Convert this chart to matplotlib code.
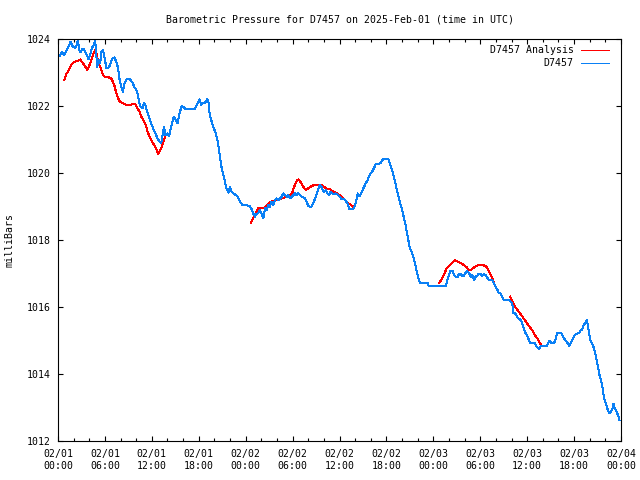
import matplotlib
matplotlib.use("Agg")
import matplotlib.pyplot as plt
from matplotlib.ticker import FixedLocator, MultipleLocator

# ---- data (hours since 2025-02-01 00:00 UTC, pressure in mbar) ----
obs_hours = [0.25, 0.5, 0.77, 1.06, 1.4, 1.6, 1.9, 2.2, 2.4, 2.56, 2.7, 2.85, 3.1, 3.3, 3.6, 3.9, 4.1, 4.35,
             4.6, 4.72, 4.85, 5.0, 5.2, 5.4, 5.55, 5.75, 5.97, 6.2, 6.4, 6.65, 6.95, 7.2, 7.45, 7.7, 7.8,
             8.1, 8.3, 8.5, 8.8, 9.2, 9.5, 9.8, 10.1, 10.3, 10.5, 10.8, 11.0, 11.2, 11.4, 11.7, 12.0,
             12.35, 12.7, 13.0, 13.2, 13.55, 13.75, 13.95, 14.2, 14.5, 14.8, 15.0, 15.3, 15.5, 15.8,
             16.0, 16.3, 17.5, 17.85, 18.1, 18.3, 18.6, 18.8, 19.1, 19.3, 19.4, 19.65, 19.85, 20.1,
             20.3, 20.5, 20.7, 20.9, 21.1, 21.35, 21.55, 21.8, 22.0, 22.2, 22.4, 22.6, 23.0, 23.3,
             23.6, 24.0, 24.55, 24.8, 24.95, 25.2, 25.4, 25.6, 25.8, 26.0, 26.25, 26.5, 26.7, 26.9,
             27.1, 27.3, 27.5, 27.75, 27.95, 28.2, 28.4, 28.6, 28.8, 29.05, 29.25, 29.45, 29.7, 29.9,
             30.1, 30.3, 30.5, 30.7, 31.0, 31.2, 31.4, 31.6, 31.8, 32.0, 32.2, 32.4, 32.6, 32.9, 33.1,
             33.3, 33.5, 33.65, 33.85, 34.0, 34.25, 34.45, 34.65, 34.85, 35.1, 35.3, 35.55, 35.8,
             36.05, 36.3, 36.6, 36.8, 37.0, 37.25, 37.75, 38.0, 38.2, 38.35, 38.55, 38.75, 39.05,
             39.35, 39.6, 39.9, 40.1, 40.4, 40.65, 41.25, 41.45, 41.6, 42.25, 42.45, 42.7, 42.9, 43.1,
             43.3, 43.5, 43.7, 43.95, 44.15, 44.4, 44.6, 44.8, 45.0, 45.2, 45.45, 45.65, 45.85, 46.05,
             46.3, 47.3, 47.4, 49.6, 49.8, 50.0, 50.2, 50.45, 50.65, 50.85, 51.1, 51.3, 51.5, 51.7,
             51.9, 52.1, 52.3, 52.55, 52.8, 53.0, 53.2, 53.4, 53.6, 53.8, 54.05, 54.25, 54.45, 54.65,
             54.85, 55.1, 55.5, 55.75, 55.95, 56.2, 56.4, 56.6, 56.8, 57.0, 57.65, 57.85, 58.1, 58.2,
             58.4, 58.6, 58.85, 59.1, 59.3, 59.5, 59.7, 59.95, 60.15, 60.35, 61.0, 61.2, 61.55, 61.75,
             62.5, 62.7, 62.9, 63.1, 63.35, 63.55, 63.8, 64.4, 64.6, 64.8, 65.05, 65.4, 65.55, 65.8,
             66.1, 66.4, 66.65, 66.8, 67.0, 67.25, 67.45, 67.6, 67.8, 67.95, 68.15, 68.4, 68.6, 68.8,
             69.05, 69.25, 69.45, 69.65, 69.8, 70.05, 70.25, 70.45, 70.7, 70.9, 71.05, 71.2, 71.45,
             71.65, 71.8]
obs_pressure = [1023.50, 1023.62, 1023.52, 1023.64, 1023.80, 1023.92, 1023.77, 1023.74, 1023.82, 1023.98,
                1023.67, 1023.60, 1023.70, 1023.70, 1023.57, 1023.40, 1023.52, 1023.74, 1023.82, 1023.96,
                1023.74, 1023.17, 1023.37, 1023.27, 1023.62, 1023.67, 1023.42, 1023.12, 1023.12, 1023.22,
                1023.42, 1023.45, 1023.32, 1023.12, 1022.87, 1022.58, 1022.43, 1022.68, 1022.81, 1022.80,
                1022.71, 1022.55, 1022.45, 1022.23, 1022.00, 1021.93, 1022.08, 1022.01, 1021.83, 1021.63,
                1021.43, 1021.23, 1021.05, 1020.93, 1020.89, 1021.38, 1021.13, 1021.18, 1021.10, 1021.40,
                1021.68, 1021.60, 1021.48, 1021.73, 1022.00, 1021.98, 1021.91, 1021.91, 1022.08, 1022.20,
                1022.03, 1022.10, 1022.10, 1022.20, 1022.06, 1021.73, 1021.53, 1021.38, 1021.23, 1021.08,
                1020.84, 1020.49, 1020.19, 1019.99, 1019.74, 1019.54, 1019.41, 1019.59, 1019.44, 1019.39,
                1019.37, 1019.29, 1019.14, 1019.04, 1019.04, 1019.01, 1018.90, 1018.80, 1018.70, 1018.78,
                1018.80, 1018.90, 1018.80, 1018.65, 1018.95, 1018.90, 1019.04, 1018.99, 1019.14, 1019.04,
                1019.19, 1019.24, 1019.19, 1019.24, 1019.29, 1019.39, 1019.34, 1019.29, 1019.34, 1019.24,
                1019.29, 1019.34, 1019.39, 1019.34, 1019.39, 1019.34, 1019.29, 1019.27, 1019.24, 1019.14,
                1019.02, 1018.99, 1018.99, 1019.09, 1019.24, 1019.39, 1019.54, 1019.64, 1019.61, 1019.49,
                1019.44, 1019.49, 1019.39, 1019.34, 1019.44, 1019.39, 1019.36, 1019.39, 1019.34, 1019.29,
                1019.21, 1019.21, 1019.17, 1019.10, 1018.92, 1018.92, 1019.04, 1019.24, 1019.39, 1019.31,
                1019.39, 1019.54, 1019.69, 1019.79, 1019.97, 1020.01, 1020.14, 1020.27, 1020.29, 1020.37,
                1020.41, 1020.41, 1020.29, 1020.09, 1019.94, 1019.74, 1019.54, 1019.34, 1019.14, 1018.95,
                1018.75, 1018.50, 1018.25, 1018.00, 1017.75, 1017.65, 1017.50, 1017.30, 1017.10, 1016.90,
                1016.72, 1016.71, 1016.64, 1016.64, 1016.81, 1016.96, 1017.08, 1017.08, 1016.96, 1016.90,
                1016.90, 1016.99, 1016.99, 1016.93, 1016.93, 1017.01, 1017.08, 1017.02, 1016.90, 1016.95,
                1016.81, 1016.90, 1016.93, 1016.99, 1016.99, 1016.93, 1016.99, 1016.96, 1016.89, 1016.81,
                1016.81, 1016.71, 1016.61, 1016.51, 1016.41, 1016.41, 1016.31, 1016.21, 1016.21, 1016.16,
                1016.11, 1015.81, 1015.83, 1015.76, 1015.66, 1015.63, 1015.56, 1015.41, 1015.26, 1015.16,
                1015.06, 1014.93, 1014.92, 1014.81, 1014.74, 1014.84, 1014.84, 1014.92, 1015.00, 1014.92,
                1014.92, 1014.96, 1015.21, 1015.21, 1015.11, 1015.04, 1014.96, 1014.84, 1014.92, 1015.04,
                1015.16, 1015.21, 1015.23, 1015.29, 1015.33, 1015.46, 1015.53, 1015.61, 1015.41, 1015.16,
                1014.96, 1014.87, 1014.72, 1014.52, 1014.22, 1013.97, 1013.82, 1013.57, 1013.32, 1013.12,
                1012.97, 1012.85, 1012.85, 1012.97, 1013.12, 1012.97, 1012.87, 1012.75, 1012.63]

# analysis series, four separate segments
ana1_hours = [0.8, 1.06, 1.37, 1.7, 2.13, 2.55, 2.85, 3.2, 3.5, 3.75, 3.95, 4.25, 4.55, 4.8, 5.0, 5.1,
              5.3, 5.55, 5.75, 5.97, 6.4, 6.8, 7.0, 7.25, 7.45, 7.7, 7.9, 8.3, 8.75, 9.15, 9.6, 9.9,
              10.15, 10.45, 10.65, 10.9, 11.15, 11.4, 11.7, 12.05, 12.35, 12.7, 12.85, 13.25, 13.7]
ana1_pressure = [1022.78, 1022.95, 1023.07, 1023.24, 1023.32, 1023.35, 1023.39, 1023.27, 1023.17,
                 1023.07, 1023.17, 1023.37, 1023.57, 1023.67, 1023.52, 1023.34, 1023.22, 1023.07,
                 1022.93, 1022.87, 1022.86, 1022.83, 1022.73, 1022.58, 1022.38, 1022.23, 1022.13,
                 1022.08, 1022.03, 1022.03, 1022.06, 1022.05, 1021.93, 1021.83, 1021.68, 1021.58,
                 1021.48, 1021.28, 1021.08, 1020.93, 1020.81, 1020.64, 1020.57, 1020.78, 1021.08]
ana2_hours = [24.7, 24.95, 25.2, 25.4, 25.6, 25.8, 26.25, 26.5, 26.7, 26.9, 27.5, 27.95, 28.4, 28.6,
              29.0, 29.45, 29.65, 29.9, 30.0, 30.2, 30.4, 30.6, 30.75, 31.0, 31.25, 31.5, 31.7, 32.0,
              32.45, 32.75, 33.7, 34.0, 34.35, 34.8, 35.2, 35.65, 36.15, 36.5, 36.8, 37.1, 37.5, 37.8]
ana2_pressure = [1018.52, 1018.65, 1018.78, 1018.84, 1018.95, 1018.96, 1018.95, 1018.98, 1019.04,
                 1019.09, 1019.17, 1019.19, 1019.21, 1019.24, 1019.27, 1019.31, 1019.34, 1019.39,
                 1019.44, 1019.59, 1019.69, 1019.79, 1019.81, 1019.74, 1019.64, 1019.54, 1019.49,
                 1019.54, 1019.61, 1019.64, 1019.64, 1019.59, 1019.54, 1019.51, 1019.44, 1019.41,
                 1019.31, 1019.24, 1019.17, 1019.10, 1019.04, 1018.99]
ana3_hours = [48.75, 49.3, 49.7, 50.1, 50.55, 50.75, 51.2, 51.6, 51.9, 52.25, 52.55, 52.9, 53.3, 53.75,
              54.2, 54.7, 54.9, 55.1, 55.35, 55.55, 55.75]
ana3_pressure = [1016.71, 1016.93, 1017.16, 1017.25, 1017.35, 1017.40, 1017.35, 1017.30, 1017.25,
                 1017.19, 1017.10, 1017.12, 1017.20, 1017.25, 1017.25, 1017.23, 1017.16, 1017.06,
                 1016.96, 1016.86, 1016.71]
ana4_hours = [57.8, 58.0, 58.2, 58.45, 58.75, 59.1, 59.4, 59.7, 60.0, 60.35, 60.7, 61.0, 61.3, 61.65, 61.85]
ana4_pressure = [1016.31, 1016.23, 1016.11, 1016.01, 1015.91, 1015.81, 1015.71, 1015.61, 1015.51,
                 1015.39, 1015.29, 1015.16, 1015.06, 1014.92, 1014.84]

xtick_hours = [0, 6, 12, 18, 24, 30, 36, 42, 48, 54, 60, 66, 72]
xtick_labels = ["02/01\n00:00", "02/01\n06:00", "02/01\n12:00", "02/01\n18:00",
                "02/02\n00:00", "02/02\n06:00", "02/02\n12:00", "02/02\n18:00",
                "02/03\n00:00", "02/03\n06:00", "02/03\n12:00", "02/03\n18:00",
                "02/04\n00:00"]
ytick_values = [1012, 1014, 1016, 1018, 1020, 1022, 1024]

title = "Barometric Pressure for D7457 on 2025-Feb-01 (time in UTC)"
ylabel = "milliBars"
label_analysis = "D7457 Analysis"
label_obs = "D7457"

# ---- plot ----
plt.rcParams['font.family'] = ['DejaVu Sans Mono']
plt.rcParams['font.size'] = 7.1

fig = plt.figure(figsize=(6.4, 4.8), dpi=100)
ax = fig.add_axes([58 / 640, 39 / 480, 563 / 640, 402 / 480])

red = "#ff0000"
blue = "#0a80f5"
lw = 0.72
segments = [(ana1_hours, ana1_pressure), (ana2_hours, ana2_pressure),
            (ana3_hours, ana3_pressure), (ana4_hours, ana4_pressure)]
for i, (h, p) in enumerate(segments):
    ax.plot(h, p, color=red, lw=lw, antialiased=False,
            label=label_analysis if i == 0 else None)
ax.plot(obs_hours, obs_pressure, color=blue, lw=lw, antialiased=False, label=label_obs)

ax.set_xlim(0, 72)
ax.set_ylim(1012, 1024)
ax.xaxis.set_major_locator(FixedLocator(xtick_hours))
ax.set_xticklabels(xtick_labels)
ax.xaxis.set_minor_locator(MultipleLocator(2))
ax.yaxis.set_major_locator(FixedLocator(ytick_values))
ax.set_yticklabels([str(v) for v in ytick_values])

ax.tick_params(which='both', direction='in', top=True, right=True, width=0.8, color='black')
ax.tick_params(which='major', length=3.5)
ax.tick_params(which='minor', length=2)
ax.tick_params(axis='x', which='major', pad=6)
ax.tick_params(axis='y', which='major', pad=5)
for s in ax.spines.values():
    s.set_linewidth(0.8)

fig.text((58 + 621) / 2 / 640, 1 - 19 / 480, title, ha='center', va='center')
fig.text(10 / 640, 0.5, ylabel, rotation=90, ha='center', va='center')

leg = ax.legend(loc='upper right', bbox_to_anchor=(0.979, 0.985), frameon=False,
                markerfirst=False, borderpad=0, borderaxespad=0, handlelength=2.9,
                handletextpad=0.7, labelspacing=0.35)

fig.savefig("out.png", dpi=100)
